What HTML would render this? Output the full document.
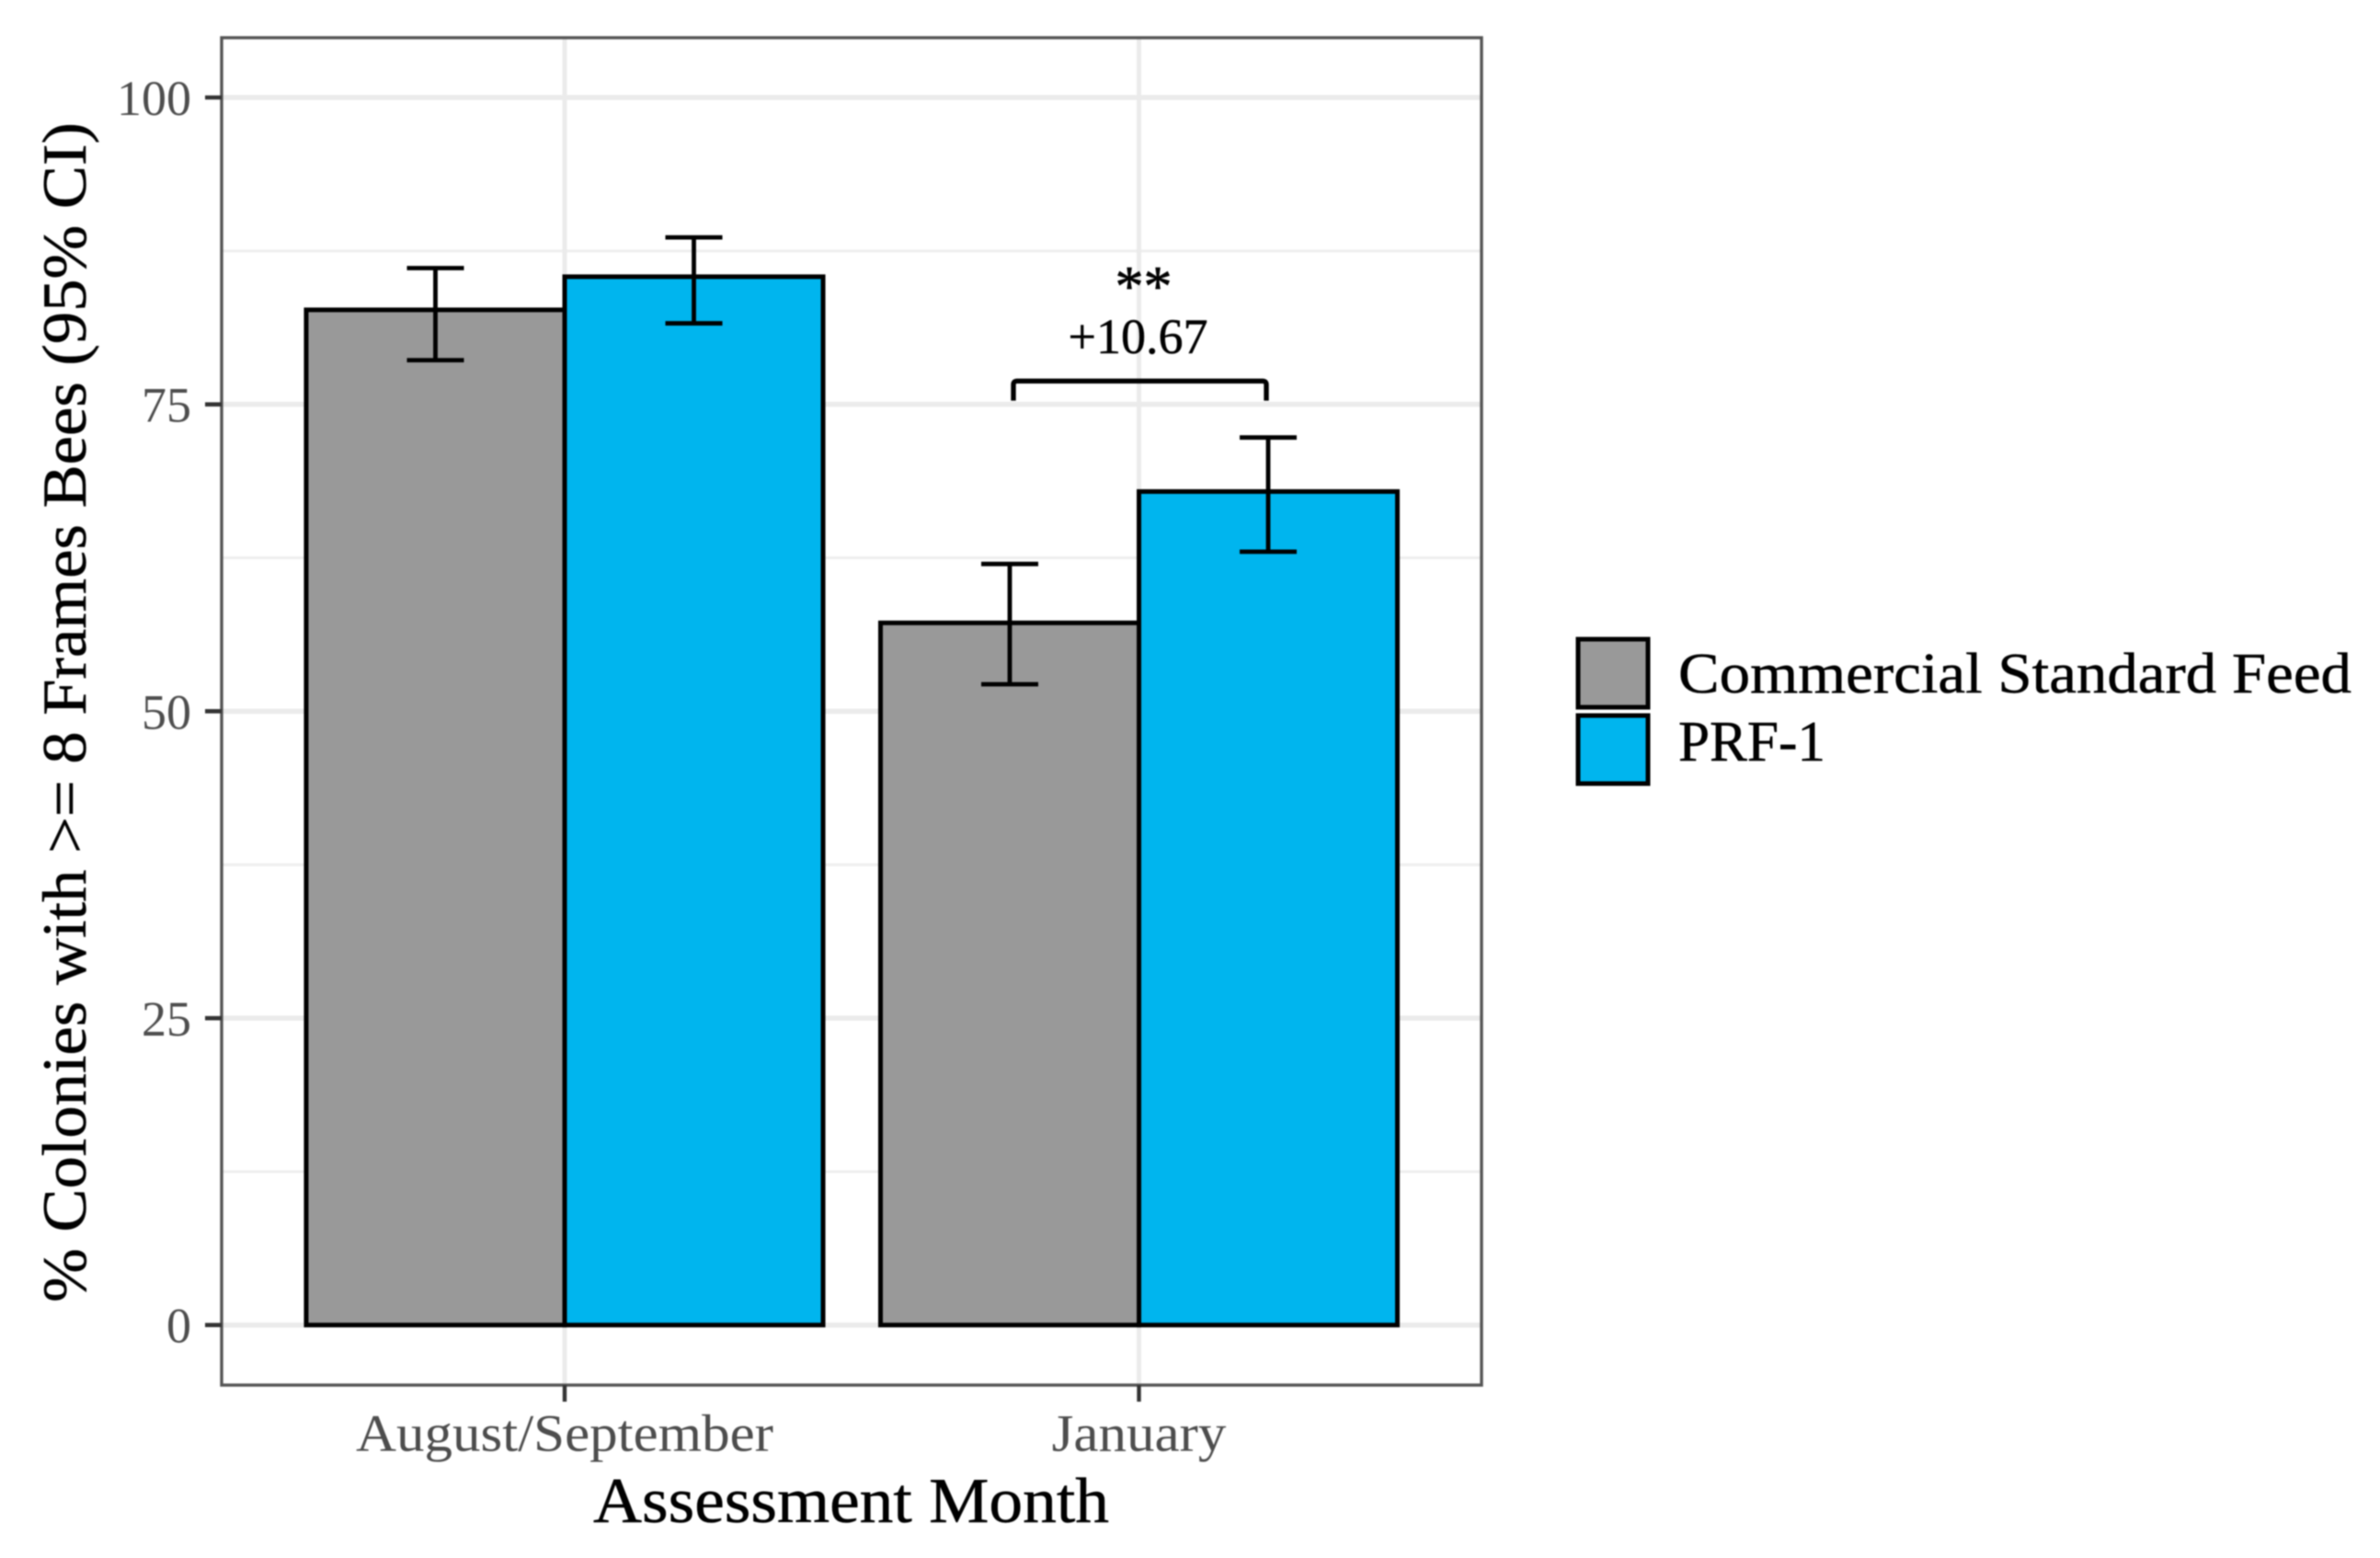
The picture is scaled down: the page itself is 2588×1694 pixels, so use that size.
<!DOCTYPE html>
<html lang="en">
<head>
<meta charset="utf-8">
<title>Colonies with at least 8 frames of bees by assessment month</title>
<style>
html,body{margin:0;padding:0;background:#fff;width:2588px;height:1694px;overflow:hidden}
svg{display:block;filter:blur(0.8px)}
text{font-family:"Liberation Serif",serif}
</style>
</head>
<body>
<svg id="chart" xmlns="http://www.w3.org/2000/svg" width="2588" height="1694" viewBox="0 0 2588 1694">
  <rect x="0" y="0" width="2588" height="1694" fill="#ffffff"/>
  <g id="grid"></g>
  <g id="bars"></g>
  <g id="errors"></g>
  <g id="annot"></g>
  <rect x="241" y="41" width="1370" height="1465" fill="none" stroke="#555555" stroke-width="3.4"/>
  <g id="axes"></g>
  <text x="645" y="1655" font-size="70" fill="#000" stroke="#000" stroke-width="0.5" textLength="561" lengthAdjust="spacingAndGlyphs">Assessment Month</text>
  <text transform="translate(93,1416) rotate(-90)" x="0" y="0" font-size="68" fill="#000" stroke="#000" stroke-width="0.5" textLength="1283" lengthAdjust="spacingAndGlyphs">% Colonies with &gt;= 8 Frames Bees (95% CI)</text>
  <g id="legend"></g>
</svg>
<script>
const categories = ["August/September", "January"];
const seriesNames = ["Commercial Standard Feed", "PRF-1"];
const commercialValues = [82.7, 57.2];
const commercialLower = [78.6, 52.2];
const commercialUpper = [86.1, 62.0];
const prfValues = [85.4, 67.9];
const prfLower = [81.6, 63.0];
const prfUpper = [88.6, 72.3];
const yMajorTicks = [0, 25, 50, 75, 100];
const yMinorTicks = [12.5, 37.5, 62.5, 87.5];
const bracketCategory = [1];
const bracketLevels = [75.3, 76.9];
const bracketLabel = ["+10.67"];
const significanceLabel = ["**"];

const values = [commercialValues, prfValues];
const lowers = [commercialLower, prfLower];
const uppers = [commercialUpper, prfUpper];
const fills = ["#999999", "#00B5EE"];

const SVGNS = "http://www.w3.org/2000/svg";
const panel = {left: 241, right: 1611, top: 41, bottom: 1506};
function yScale(v) { return 1440.7 - v * 13.347; }
function xScale(c) { return 614 + c * 624.5; }
const barW = 0.45 * 624.5;
function barLeft(c, s) { return xScale(c) + (s - 1) * barW; }
function barCentre(c, s) { return barLeft(c, s) + barW / 2; }

function make(parent, tag, attrs, content) {
  const el = document.createElementNS(SVGNS, tag);
  for (const k in attrs) el.setAttribute(k, attrs[k]);
  if (content !== undefined) el.textContent = content;
  parent.appendChild(el);
  return el;
}
function squeeze(el, ratio) {
  el.setAttribute("textLength", (el.getComputedTextLength() * ratio).toFixed(1));
  el.setAttribute("lengthAdjust", "spacingAndGlyphs");
}

const grid = document.getElementById("grid");
const barsG = document.getElementById("bars");
const errG = document.getElementById("errors");
const annot = document.getElementById("annot");
const axes = document.getElementById("axes");
const legend = document.getElementById("legend");

yMinorTicks.forEach(function (t) {
  const el = make(grid, "line", {x1: panel.left, x2: panel.right, y1: yScale(t), y2: yScale(t), stroke: "#EEEEEE", "stroke-width": 3});
  
  
});
yMajorTicks.forEach(function (t) {
  const el = make(grid, "line", {x1: panel.left, x2: panel.right, y1: yScale(t), y2: yScale(t), stroke: "#EBEBEB", "stroke-width": 5.5});
  
  
});
categories.forEach(function (c, i) {
  const el = make(grid, "line", {x1: xScale(i), x2: xScale(i), y1: panel.top, y2: panel.bottom, stroke: "#EBEBEB", "stroke-width": 5});
  
  
});

values.forEach(function (series, s) {
  series.forEach(function (v, c) {
    const el = make(barsG, "rect", {x: barLeft(c, s), y: yScale(v), width: barW, height: yScale(0) - yScale(v), fill: fills[s], stroke: "#000", "stroke-width": 5});
    
    
  });
});

values.forEach(function (series, s) {
  series.forEach(function (v, c) {
    const cx = barCentre(c, s);
    const up = yScale(uppers[s][c]);
    const lo = yScale(lowers[s][c]);
    const stem = make(errG, "line", {x1: cx, x2: cx, y1: up, y2: lo, stroke: "#000", "stroke-width": 4.8});
    
    
    const capTop = make(errG, "line", {x1: cx - 31, x2: cx + 31, y1: up, y2: up, stroke: "#000", "stroke-width": 4.8});
    
    
    const capLow = make(errG, "line", {x1: cx - 31, x2: cx + 31, y1: lo, y2: lo, stroke: "#000", "stroke-width": 4.8});
    
    
  });
});

const bc = bracketCategory[0];
const bx1 = barCentre(bc, 0) + 4;
const bx2 = barCentre(bc, 1) - 2;
const byLow = yScale(bracketLevels[0]);
const byTop = yScale(bracketLevels[1]);
const bracket = make(annot, "path", {d: "M" + bx1 + " " + byLow + " V" + (byTop + 4) + " Q" + bx1 + " " + byTop + " " + (bx1 + 4) + " " + byTop + " H" + (bx2 - 4) + " Q" + bx2 + " " + byTop + " " + bx2 + " " + (byTop + 4) + " V" + byLow, fill: "none", stroke: "#000", "stroke-width": 5.4});


const deltaText = make(annot, "text", {x: xScale(bc) - 1, y: 384, "font-size": 54, "text-anchor": "middle", fill: "#000", stroke: "#000", "stroke-width": 0.5}, bracketLabel[0]);


const starText = make(annot, "text", {x: xScale(bc) + 5, y: 332, "font-size": 62, "text-anchor": "middle", fill: "#000", stroke: "#000", "stroke-width": 0.7}, significanceLabel[0]);



yMajorTicks.forEach(function (t) {
  const tick = make(axes, "line", {x1: 223, x2: panel.left, y1: yScale(t), y2: yScale(t), stroke: "#333333", "stroke-width": 4.6});
  
  
  const label = make(axes, "text", {x: 208, y: yScale(t) + 19, "font-size": 54, "text-anchor": "end", fill: "#4D4D4D"}, String(t));
  
  
  squeeze(label, 1.0);
});
categories.forEach(function (c, i) {
  const tick = make(axes, "line", {x1: xScale(i), x2: xScale(i), y1: panel.bottom, y2: 1524, stroke: "#333333", "stroke-width": 4.4});
  
  
  const label = make(axes, "text", {x: xScale(i), y: 1577.5, "font-size": 57, "text-anchor": "middle", fill: "#4D4D4D"}, c);
  
  
  squeeze(label, 1.07);
});

seriesNames.forEach(function (name, s) {
  const key = make(legend, "rect", {x: 1716, y: 695 + s * 83, width: 76, height: 74, fill: fills[s], stroke: "#000", "stroke-width": 5});
  
  
  const label = make(legend, "text", {x: 1825, y: 753 + s * 74, "font-size": 62, fill: "#000", stroke: "#000", "stroke-width": 0.5}, name);
  
  
});
const lab0 = legend.querySelectorAll("text")[0];
lab0.setAttribute("textLength", "732");
lab0.setAttribute("lengthAdjust", "spacingAndGlyphs");
const lab1 = legend.querySelectorAll("text")[1];
lab1.setAttribute("textLength", "160");
lab1.setAttribute("lengthAdjust", "spacingAndGlyphs");
</script>
</body>
</html>
